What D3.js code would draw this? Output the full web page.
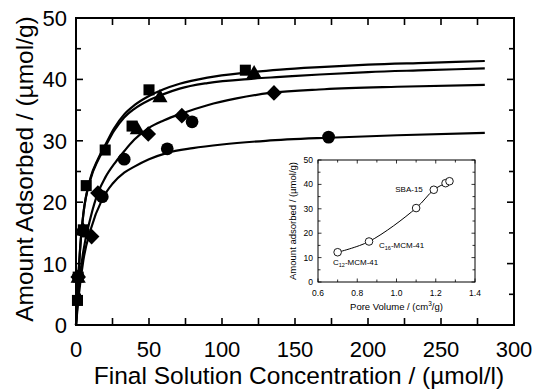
<!DOCTYPE html>
<html>
<head>
<meta charset="utf-8">
<script src="https://cdn.jsdelivr.net/npm/d3@7"></script>
<style>
  body { margin: 0; background: #fff; }
  svg { font-family: "Liberation Sans", Arial, sans-serif; }
</style>
</head>
<body>
<div id="chart"></div>
<script>
// main isotherm points
const squares = [[1, 4.0], [1.5, 7.8], [5, 15.5], [7, 22.7], [20, 28.5], [38.4, 32.4], [50, 38.3], [116, 41.5]];
const triangles = [[1.5, 7.6], [5, 15.3], [42, 31.8], [57.5, 37.0], [122, 40.9]];
const diamonds = [[1.5, 7.8], [10.7, 14.4], [15, 21.5], [49.5, 31.1], [72.5, 34.1], [135.6, 37.8]];
const circles = [[1.5, 7.8], [5, 15.3], [18, 20.9], [33, 27.0], [62.5, 28.7], [79.5, 33.1], [173, 30.6]];

// fitted curves as seen on the picture
const fitSquares = [[0, 0], [1, 5], [3, 13], [5, 18], [10, 24], [15, 27], [20, 29.3], [26, 32], [33, 34.3], [40, 35.8], [50, 37.3], [60, 38.4], [71, 39.3], [90, 40.3], [116, 41.1], [140, 41.6], [167, 42.0], [200, 42.4], [240, 42.7], [280, 43.0]];
const fitTriangles = [[0, 0], [1, 5], [3, 13], [5, 18], [10, 23.8], [15, 26.8], [20, 29], [26, 31.6], [33, 33.8], [40, 35.2], [50, 36.6], [60, 37.6], [71, 38.5], [90, 39.4], [120, 40.1], [140, 40.4], [167, 40.8], [200, 41.2], [240, 41.5], [280, 41.8]];
const fitDiamonds = [[0, 0], [1, 3.5], [3, 8.5], [5, 12], [10, 17.5], [15, 21.5], [20, 24], [27, 26.5], [33, 28.3], [40, 30.2], [50, 32.1], [60, 33.3], [73, 34.5], [90, 35.8], [110, 36.9], [133, 37.8], [170, 38.4], [220, 38.8], [280, 39.1]];
const fitCircles = [[0, 0], [2, 5], [5, 10.5], [10, 15.5], [18, 20.5], [25, 23], [33, 24.8], [40, 25.8], [50, 27], [62, 28], [80, 28.8], [100, 29.4], [130, 30], [173, 30.5], [220, 30.9], [280, 31.3]];

const xTicks = [0, 50, 100, 150, 200, 250, 300];
const yTicks = [0, 10, 20, 30, 40, 50];

// inset: amount adsorbed vs pore volume
const poreVolume = [0.70, 0.86, 1.10, 1.19, 1.25, 1.27];
const insetAmount = [12.2, 16.6, 30.3, 37.8, 40.5, 41.3];
const insetXTicks = [0.6, 0.8, 1.0, 1.2, 1.4];
const insetYTicks = [0, 10, 20, 30, 40, 50];

const width = 535;
const height = 390;

const svg = d3.select('#chart').append('svg')
    .attr('width', width)
    .attr('height', height);

const x = d3.scaleLinear().domain([0, 300]).range([76, 514]);
const y = d3.scaleLinear().domain([0, 50]).range([325, 18]);

// frame
svg.append('rect')
    .attr('x', x(0))
    .attr('y', y(50))
    .attr('width', x(300) - x(0))
    .attr('height', y(0) - y(50))
    .attr('fill', 'none')
    .attr('stroke', '#000')
    .attr('stroke-width', 2);

// inward ticks, every 25 on x and every 5 on y
const tickG = svg.append('g').attr('stroke', '#000').attr('stroke-width', 1.6);
d3.range(0, 301, 25).forEach((v) => {
  tickG.append('line').attr('x1', x(v)).attr('x2', x(v)).attr('y1', y(0)).attr('y2', y(0) - 7);
  tickG.append('line').attr('x1', x(v)).attr('x2', x(v)).attr('y1', y(50)).attr('y2', y(50) + 7);
});
d3.range(0, 51, 5).forEach((v) => {
  const len = v % 10 === 0 ? 7 : 5;
  tickG.append('line').attr('x1', x(0)).attr('x2', x(0) + len).attr('y1', y(v)).attr('y2', y(v));
  tickG.append('line').attr('x1', x(300)).attr('x2', x(300) - len).attr('y1', y(v)).attr('y2', y(v));
});

svg.append('g').selectAll('text')
    .data(xTicks)
  .enter().append('text')
    .attr('x', (d) => x(d))
    .attr('y', 357)
    .attr('text-anchor', 'middle')
    .style('font-size', '22px')
    .text((d) => d);

svg.append('g').selectAll('text')
    .data(yTicks)
  .enter().append('text')
    .attr('x', 67)
    .attr('y', (d) => y(d) + 8)
    .attr('text-anchor', 'end')
    .style('font-size', '22px')
    .text((d) => d);

svg.append('text')
    .attr('x', 299)
    .attr('y', 384)
    .attr('text-anchor', 'middle')
    .style('font-size', '24.5px')
    .text('Final Solution Concentration / (µmol/l)');

svg.append('text')
    .attr('transform', 'translate(33,169) rotate(-90)')
    .attr('text-anchor', 'middle')
    .style('font-size', '24.5px')
    .text('Amount Adsorbed / (µmol/g)');

// fitted curves
const line = d3.line()
    .x((d) => x(d[0]))
    .y((d) => y(d[1]))
    .curve(d3.curveMonotoneX);

[fitSquares, fitTriangles, fitDiamonds, fitCircles].forEach((fit) => {
  svg.append('path')
      .datum(fit)
      .attr('d', line)
      .attr('fill', 'none')
      .attr('stroke', '#000')
      .attr('stroke-width', 2.2);
});

// markers
const sym = (type, size) => d3.symbol().type(type).size(size)();
const drawPoints = (pts, path) => {
  svg.append('g').selectAll('path')
      .data(pts)
    .enter().append('path')
      .attr('transform', (d) => `translate(${x(d[0])},${y(d[1])})`)
      .attr('d', path)
      .attr('fill', '#000');
};
drawPoints(circles, sym(d3.symbolCircle, 128));
drawPoints(diamonds, 'M0,-7.8L7.8,0L0,7.8L-7.8,0Z');
drawPoints(triangles, sym(d3.symbolTriangle, 100));
drawPoints(squares, sym(d3.symbolSquare, 122));

// ---- inset ----
const ix = d3.scaleLinear().domain([0.6, 1.4]).range([318, 475]);
const iy = d3.scaleLinear().domain([0, 50]).range([282, 160]);

const inset = svg.append('g');
inset.append('rect')
    .attr('x', ix(0.6))
    .attr('y', iy(50))
    .attr('width', ix(1.4) - ix(0.6))
    .attr('height', iy(0) - iy(50))
    .attr('fill', '#fff')
    .attr('stroke', '#000')
    .attr('stroke-width', 1);

const iTicks = inset.append('g').attr('stroke', '#000').attr('stroke-width', 0.8);
d3.range(6, 15).forEach((k) => {
  const v = k / 10;
  const len = k % 2 === 0 ? 3.5 : 2.5;
  iTicks.append('line').attr('x1', ix(v)).attr('x2', ix(v)).attr('y1', iy(0)).attr('y2', iy(0) - len);
  iTicks.append('line').attr('x1', ix(v)).attr('x2', ix(v)).attr('y1', iy(50)).attr('y2', iy(50) + len);
});
d3.range(0, 51, 5).forEach((v) => {
  const len = v % 10 === 0 ? 3.5 : 2.5;
  iTicks.append('line').attr('x1', ix(0.6)).attr('x2', ix(0.6) + len).attr('y1', iy(v)).attr('y2', iy(v));
  iTicks.append('line').attr('x1', ix(1.4)).attr('x2', ix(1.4) - len).attr('y1', iy(v)).attr('y2', iy(v));
});

inset.append('g').selectAll('text')
    .data(insetXTicks)
  .enter().append('text')
    .attr('x', (d) => ix(d))
    .attr('y', 296)
    .attr('text-anchor', 'middle')
    .style('font-size', '8.5px')
    .text((d) => d.toFixed(1));

inset.append('g').selectAll('text')
    .data(insetYTicks)
  .enter().append('text')
    .attr('x', 313)
    .attr('y', (d) => iy(d) + 3)
    .attr('text-anchor', 'end')
    .style('font-size', '8.5px')
    .text((d) => d);

const poreTitle = inset.append('text')
    .attr('x', ix(1.0))
    .attr('y', 310)
    .attr('text-anchor', 'middle')
    .style('font-size', '9.5px');
poreTitle.append('tspan').text('Pore Volume / (cm');
poreTitle.append('tspan').attr('dy', -4).style('font-size', '6.5px').text('3');
poreTitle.append('tspan').attr('dy', 4).text('/g)');

inset.append('text')
    .attr('transform', `translate(296,${iy(25)}) rotate(-90)`)
    .attr('text-anchor', 'middle')
    .style('font-size', '9.5px')
    .text('Amount adsorbed / (µmol/g)');

const insetPts = poreVolume.map((v, i) => [v, insetAmount[i]]);
inset.append('path')
    .datum(insetPts)
    .attr('d', d3.line().x((d) => ix(d[0])).y((d) => iy(d[1])).curve(d3.curveCatmullRom))
    .attr('fill', 'none')
    .attr('stroke', '#000')
    .attr('stroke-width', 1);

inset.append('g').selectAll('circle')
    .data(insetPts)
  .enter().append('circle')
    .attr('cx', (d) => ix(d[0]))
    .attr('cy', (d) => iy(d[1]))
    .attr('r', 3.8)
    .attr('fill', '#fff')
    .attr('stroke', '#000')
    .attr('stroke-width', 0.9);

inset.append('text')
    .attr('x', 409)
    .attr('y', 192)
    .attr('text-anchor', 'middle')
    .style('font-size', '8px')
    .text('SBA-15');

const label = (lx, ly, sub) => {
  const t = inset.append('text')
      .attr('x', lx)
      .attr('y', ly)
      .style('font-size', '8px');
  t.append('tspan').text('C');
  t.append('tspan').attr('dy', 2).style('font-size', '5.5px').text(sub);
  t.append('tspan').attr('dy', -2).text('-MCM-41');
};
label(379, 248, '16');
label(333, 265, '12');
</script>
</body>
</html>
